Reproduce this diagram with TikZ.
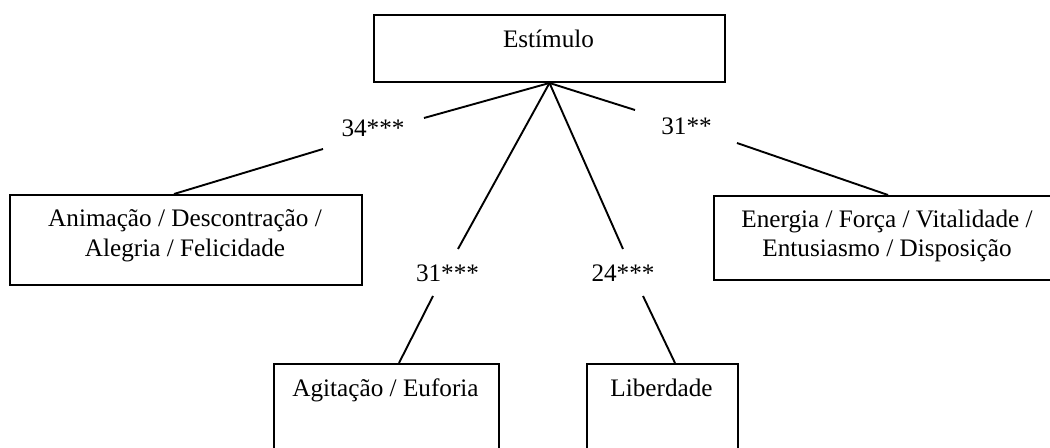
\documentclass[tikz,border=0pt]{standalone}
\usepackage{fontspec}
\setmainfont{Liberation Serif}
\usetikzlibrary{calc}
\begin{document}
\begin{tikzpicture}[x=0.5pt,y=-0.5pt,
  box/.style={draw=black,line width=1pt,rectangle,inner sep=0pt,anchor=north west},
  txt/.style={anchor=base,inner sep=0pt,font=\fontsize{12.6}{15}\selectfont},
  link/.style={draw=black,line width=0.95pt}]
\useasboundingbox (0,0) rectangle (1050,448);

% boxes
\node[box,minimum width=175.5pt,minimum height=33.5pt] (stim) at (373,14) {};
\node[box,minimum width=176pt,minimum height=45pt] (anim) at (9,194) {};
\node[box,minimum width=184pt,minimum height=42pt] (ener) at (713,195) {};
\node[box,minimum width=112.5pt,minimum height=63.5pt] (agit) at (273,363) {};
\node[box,minimum width=75.5pt,minimum height=63.5pt] (libe) at (586,363) {};

% box texts
\node[txt] (tstim) at (548.5,48) {Estímulo};
\node[txt] (tanim1) at (185,227) {Animação / Descontração /};
\node[txt] (tanim2) at (185,257) {Alegria / Felicidade};
\node[txt] (tener1) at (887,228) {Energia / Força / Vitalidade /};
\node[txt] (tener2) at (887,257) {Entusiasmo / Disposição};
\node[txt] (tagit) at (385.5,397) {Agitação / Euforia};
\node[txt] (tlibe) at (661.5,397) {Liberdade};

% coefficient labels
\node[txt] (l1) at (373,137) {34***};
\node[txt] (l2) at (686.5,135) {31**};
\node[txt] (l3) at (447.5,282) {31***};
\node[txt] (l4) at (623,282) {24***};

% connector break points around the labels
\coordinate (a1) at (424,118);
\coordinate (b1) at (323,149);
\coordinate (a2) at (635,110);
\coordinate (b2) at (737,143);
\coordinate (a3) at (458,249);
\coordinate (b3) at (433,296);
\coordinate (a4) at (623,249);
\coordinate (b4) at (643,296);

% connectors
\draw[link] (stim.south) -- (a1);
\draw[link] (b1) -- ([xshift=-6pt]anim.north);
\draw[link] (stim.south) -- (a2);
\draw[link] (b2) -- ([xshift=-5pt]ener.north);
\draw[link] (stim.south) -- (a3);
\draw[link] (b3) -- ([xshift=6.25pt]agit.north);
\draw[link] (stim.south) -- (a4);
\draw[link] (b4) -- ([xshift=6.25pt]libe.north);
\end{tikzpicture}
\end{document}
